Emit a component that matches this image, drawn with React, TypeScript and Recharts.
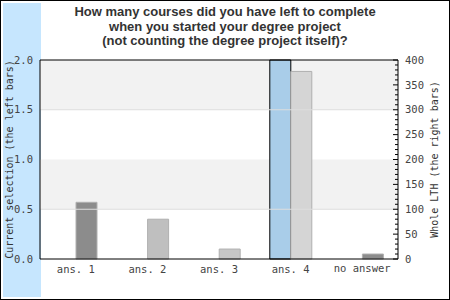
import { Bar, BarChart, Cell, ReferenceArea, ReferenceLine, XAxis, YAxis } from "recharts";

const categories = ["ans. 1", "ans. 2", "ans. 3", "ans. 4", "no answer"];
const currentSelection = [0, 0, 0, 2, 0];
const wholeLth = [114, 80, 20, 377, 10];
const wholeColors = ["#8c8c8c", "#bfbfbf", "#c7c7c7", "#d5d5d5", "#8c8c8c"];
const leftTicks = [0, 0.5, 1, 1.5, 2];
const rightMajor = [0, 50, 100, 150, 200, 250, 300, 350, 400];
const rightTicks = Array.from({ length: 41 }, (_, i) => i * 10);
const bands = [[1.5, 2], [0.5, 1]];
const gridLines = [1.5, 0.5];
const titleLines = [
  "How many courses did you have left to complete",
  "when you started your degree project",
  "(not counting the degree project itself)?",
];

const mono = "'DejaVu Sans Mono', monospace";

const rows = categories.map((name, i) => ({ name, current: currentSelection[i], whole: wholeLth[i] }));

function RightTick({ x, y, payload }: any) {
  const major = rightMajor.includes(payload.value);
  return (
    <g>
      <line x1={x - (major ? 5 : 3)} x2={x} y1={y} y2={y} stroke="#000" />
      {major && (
        <text x={x + 7} y={y} dy="0.35em" fontFamily={mono} fontSize={10.5} fill="#444">
          {payload.value}
        </text>
      )}
    </g>
  );
}

function BottomTick({ x, y, payload }: any) {
  // the last label sits a little higher in the original
  const lift = payload.value === "no answer" ? 1.5 : 0;
  return (
    <text x={x} y={y + 7 - lift} dy="0.71em" textAnchor="middle" fontFamily={mono} fontSize={10.5} fill="#444">
      {payload.value}
    </text>
  );
}

function SideLabel({ viewBox, text, cx }: any) {
  const cy = viewBox.y + viewBox.height / 2;
  return (
    <text x={cx} y={cy} transform={`rotate(-90 ${cx} ${cy})`} textAnchor="middle" dy="0.35em" fontFamily={mono} fontSize={10} fill="#333">
      {text}
    </text>
  );
}

export default function App() {
  return (
    <div style={{ position: "fixed", left: 0, top: 0, width: 450, height: 300, boxSizing: "border-box", border: "1px solid #000", background: "#fff" }}>
      <div style={{ position: "absolute", left: 2, top: 2, width: 38, height: 294, background: "#c6e6fe" }} />
      <div style={{ position: "absolute", left: -1, top: 4, width: 450, textAlign: "center", fontFamily: "'Liberation Sans', Arial, sans-serif", fontWeight: "bold", fontSize: 13, lineHeight: "14.5px", color: "#333" }}>
        {titleLines.map((t) => <div key={t}>{t}</div>)}
      </div>
      <div style={{ position: "absolute", left: -1, top: -1 }}>
        <BarChart width={450} height={300} data={rows} margin={{ top: 60, right: 0, bottom: 0, left: 0 }} barSize={21} barGap={0}>
          {bands.map(([a, b]) => <ReferenceArea key={a} yAxisId="left" y1={a} y2={b} fill="#f2f2f2" fillOpacity={1} stroke="none" />)}
          {gridLines.map((v) => <ReferenceLine key={v} yAxisId="left" y={v} stroke="#dddddd" />)}
          <ReferenceLine yAxisId="left" y={2} stroke="#000" />
          <XAxis dataKey="name" height={41} axisLine={{ stroke: "#000" }} tickLine={false} tickSize={0} tickMargin={0} interval={0} tick={<BottomTick />} />
          <YAxis yAxisId="left" orientation="left" width={40} domain={[0, 2]} ticks={leftTicks} interval={0} axisLine={{ stroke: "#000" }} tickLine={false} tickSize={0} tickMargin={7} tickFormatter={(v: number) => v.toFixed(1)} tick={{ fontFamily: mono, fontSize: 10.5, fill: "#444" }} label={<SideLabel text="Current selection (the left bars)" cx={9} />} />
          <YAxis yAxisId="right" orientation="right" width={52} domain={[0, 400]} ticks={rightTicks} interval={0} axisLine={{ stroke: "#000" }} tickLine={false} tickSize={0} tickMargin={0} tick={<RightTick />} label={<SideLabel text="Whole LTH (the right bars)" cx={434} />} />
          <Bar yAxisId="left" dataKey="current" fill="#a9cde9" stroke="#000" isAnimationActive={false} />
          <Bar yAxisId="right" dataKey="whole" stroke="#b0b0b0" isAnimationActive={false}>
            {wholeColors.map((c, i) => <Cell key={i} fill={c} />)}
          </Bar>
        </BarChart>
      </div>
    </div>
  );
}
